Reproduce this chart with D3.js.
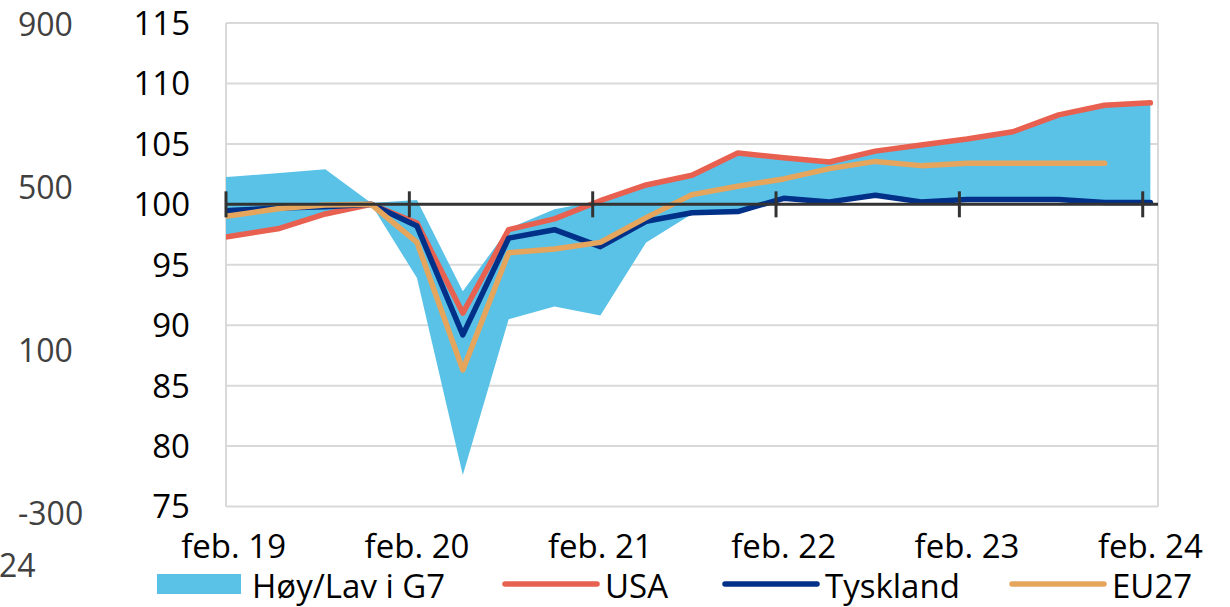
<!DOCTYPE html>
<html>
<head>
<meta charset="utf-8">
<script src="https://cdn.jsdelivr.net/npm/d3@7/dist/d3.min.js"></script>
<style>
  body { margin: 0; background: #fff; }
  svg { display: block; font-family: "Open Sans", "Noto Sans", sans-serif; }
</style>
</head>
<body>
<div id="chart"></div>
<script>
// kvartalstall, datert midt i kvartalet (første punkt ligger utenfor aksen og klippes)
const perioder = ["2018-11","2019-02","2019-05","2019-08","2019-11","2020-02","2020-05","2020-08",
  "2020-11","2021-02","2021-05","2021-08","2021-11","2022-02","2022-05","2022-08","2022-11",
  "2023-02","2023-05","2023-08","2023-11","2024-02"];

const hoy = [102.1, 102.3, 102.6, 102.9, 100.1, 100.35, 92.8, 98.0, 99.6, 100.3, 101.6, 102.4,
  104.25, 103.85, 103.5, 104.4, 104.9, 105.4, 106.0, 107.4, 108.2, 108.4];
const lav = [96.8, 97.4, 98.0, 99.2, 100.0, 93.9, 77.6, 90.5, 91.55, 90.8, 96.85, 99.2,
  99.4, 100.5, 100.2, 100.75, 100.2, 100.4, 100.4, 100.4, 100.15, 100.15];
const usa = [96.8, 97.4, 98.0, 99.2, 100.0, 98.45, 91.0, 97.9, 98.8, 100.3, 101.6, 102.4,
  104.25, 103.85, 103.5, 104.4, 104.9, 105.4, 106.0, 107.4, 108.2, 108.4];
const tyskland = [99.3, 99.5, 99.7, 99.8, 100.0, 98.2, 89.2, 97.2, 97.9, 96.5, 98.6, 99.3,
  99.4, 100.5, 100.2, 100.75, 100.2, 100.4, 100.4, 100.4, 100.15, 100.15];
const eu27 = [98.6, 99.1, 99.65, 99.95, 100.0, 96.85, 86.3, 96.0, 96.3, 96.85, 98.9, 100.8,
  101.5, 102.1, 102.95, 103.55, 103.2, 103.4, 103.4, 103.4, 103.4, null];

const yTicks = [75, 80, 85, 90, 95, 100, 105, 110, 115];
const xTickLabels = ["feb. 19", "feb. 20", "feb. 21", "feb. 22", "feb. 23", "feb. 24"];
// rester av en annen figur til venstre
const restTekst = ["900", "500", "100", "-300"];

const width = 1230, height = 607;

// måned 0 = februar 2019, punktet ligger midt i måneden
function mnd(p) {
  const [aar, m] = p.split("-").map(Number);
  return (aar - 2019) * 12 + (m - 2) + 0.5;
}

const x = d3.scaleLinear().domain([0, 61]).range([226, 1158]);
const y = d3.scaleLinear().domain([75, 115]).range([506.5, 23]);

const svg = d3.select("#chart").append("svg")
  .attr("width", width)
  .attr("height", height);

svg.append("defs").append("clipPath")
  .attr("id", "plot")
  .append("rect")
  .attr("x", x(0)).attr("y", y(115))
  .attr("width", x(61) - x(0)).attr("height", y(75) - y(115));

// rutenett
svg.append("g")
  .selectAll("line")
  .data(yTicks)
  .enter()
  .append("line")
  .attr("x1", x(0)).attr("x2", x(61))
  .attr("y1", d => y(d)).attr("y2", d => y(d))
  .style("stroke", "#d9d9d9")
  .style("stroke-width", 2);

svg.append("g")
  .selectAll("line")
  .data([0, 61])
  .enter()
  .append("line")
  .attr("x1", d => x(d)).attr("x2", d => x(d))
  .attr("y1", y(115)).attr("y2", y(75))
  .style("stroke", "#d9d9d9")
  .style("stroke-width", 2);

//Etiketter y-akse
svg.append("g")
  .selectAll("text")
  .data(yTicks)
  .enter()
  .append("text")
  .attr("x", 190)
  .attr("y", d => y(d))
  .attr("dy", "0.36em")
  .attr("text-anchor", "end")
  .style("font-size", "33px")
  .style("fill", "#000")
  .text(d => d);

// løse tall til venstre
svg.append("g")
  .selectAll("text")
  .data(restTekst)
  .enter()
  .append("text")
  .attr("x", 18)
  .attr("y", (d, i) => 24 + i * 163)
  .attr("dy", "0.36em")
  .style("font-size", "32px")
  .style("fill", "#404040")
  .text(d => d);
svg.append("text")
  .attr("x", -1)
  .attr("y", 577)
  .style("font-size", "32px")
  .style("fill", "#404040")
  .text("24");

const data = perioder.map((p, i) => ({
  m: mnd(p), hoy: hoy[i], lav: lav[i], usa: usa[i], tyskland: tyskland[i], eu27: eu27[i]
}));

const plot = svg.append("g").attr("clip-path", "url(#plot)");

// Høy/Lav i G7
plot.append("path")
  .datum(data)
  .attr("d", d3.area()
    .x(d => x(d.m))
    .y0(d => y(d.lav))
    .y1(d => y(d.hoy)))
  .style("fill", "#5bc2e7");

// akselinje ved 100 med kryssende tikker
svg.append("line")
  .attr("x1", x(0)).attr("x2", x(61))
  .attr("y1", y(100)).attr("y2", y(100))
  .style("stroke", "#333")
  .style("stroke-width", 3);

svg.append("g")
  .selectAll("line")
  .data(xTickLabels)
  .enter()
  .append("line")
  .attr("x1", (d, i) => x(i * 12)).attr("x2", (d, i) => x(i * 12))
  .attr("y1", y(100) - 13).attr("y2", y(100) + 13)
  .style("stroke", "#333")
  .style("stroke-width", 3);

//Etiketter x-akse
svg.append("g")
  .selectAll("text")
  .data(xTickLabels)
  .enter()
  .append("text")
  .attr("x", (d, i) => x(i * 12 + 0.5))
  .attr("y", 558)
  .attr("text-anchor", "middle")
  .style("font-size", "33px")
  .style("fill", "#000")
  .text(d => d);

const serier = [
  {key: "usa", navn: "USA", farge: "#e8604f"},
  {key: "tyskland", navn: "Tyskland", farge: "#003087"},
  {key: "eu27", navn: "EU27", farge: "#e5a55d"}
];

serier.forEach(s => {
  plot.append("path")
    .datum(data.filter(d => d[s.key] != null))
    .attr("d", d3.line()
      .x(d => x(d.m))
      .y(d => y(d[s.key])))
    .style("fill", "none")
    .style("stroke", s.farge)
    .style("stroke-width", 5.5)
    .style("stroke-linejoin", "round")
    .style("stroke-linecap", "round");
});

//Legende
const leg = svg.append("g");
leg.append("rect")
  .attr("x", 157).attr("y", 574)
  .attr("width", 84).attr("height", 20)
  .style("fill", "#5bc2e7");
leg.append("text")
  .attr("x", 252).attr("y", 598)
  .style("font-size", "33px")
  .text("Høy/Lav i G7");

const legPos = [505, 725, 1012];
serier.forEach((s, i) => {
  leg.append("line")
    .attr("x1", legPos[i]).attr("x2", legPos[i] + 92)
    .attr("y1", 584).attr("y2", 584)
    .style("stroke", s.farge)
    .style("stroke-width", 5.5)
    .style("stroke-linecap", "round");
  leg.append("text")
    .attr("x", legPos[i] + 100).attr("y", 598)
    .style("font-size", "33px")
    .text(s.navn);
});
</script>
</body>
</html>
